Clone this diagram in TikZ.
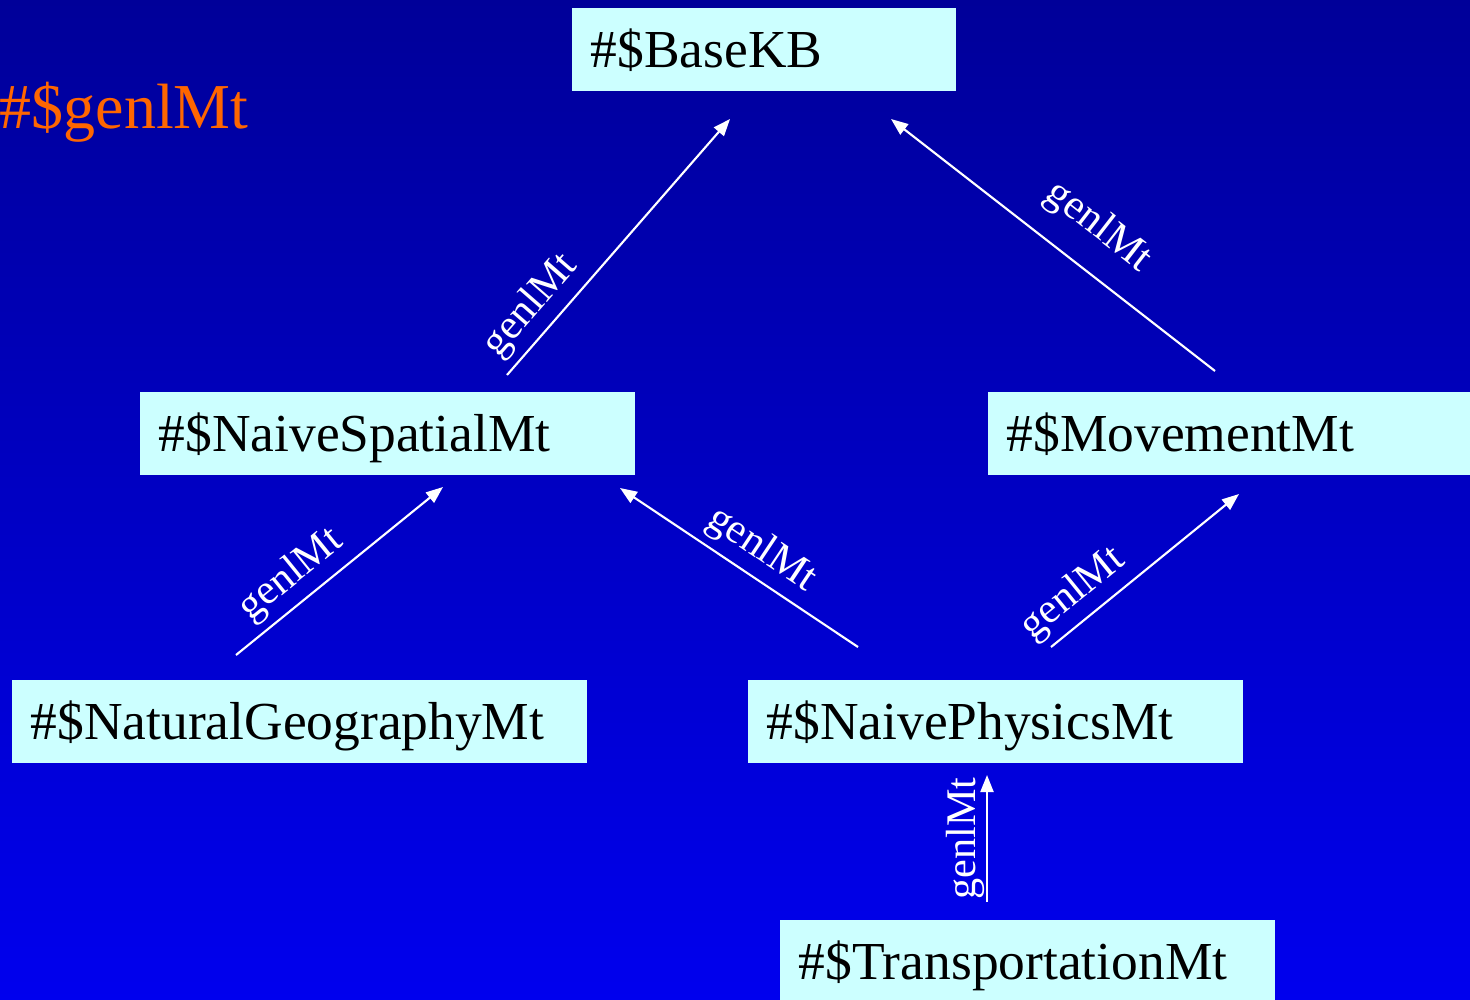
\documentclass[tikz,border=0pt]{standalone}
\usepackage{fontspec}
\setmainfont{Liberation Serif}
\usetikzlibrary{arrows.meta}
\definecolor{slideTop}{HTML}{000099}
\definecolor{slideBottom}{HTML}{0000EE}
\definecolor{mtFill}{HTML}{CCFFFF}
\definecolor{titleOrange}{HTML}{FF6600}
\newcommand*{\mtBox}[4]{%
  \node [ mt box, text width = #3cm ] (#1) at (#2) {%
    #4
  };
}

\begin{document}
\begin{tikzpicture}[ x = 0.01cm, y = -0.01cm,
    mt box/.style = {fill = mtFill, anchor = north west,
                     inner xsep = 0.19cm, inner ysep = 0pt,
                     text height = 0.60cm, text depth = 0.23cm,
                     align = left,
                     font = \fontsize{15.2}{18}\selectfont},
    genl/.style = {draw = white, line width = 0.6pt,
                   -{Triangle[length = 0.17cm, width = 0.13cm]}},
    genl label/.style = {text = white, sloped, above, inner sep = 2pt,
                         font = \fontsize{12}{14}\selectfont}]

\shade [top color = slideTop, bottom color = slideBottom]
    (0,0) rectangle (1470,999);
\clip (0,0) rectangle (1470,999);

\node (title) [anchor = base west, inner sep = 0pt, text = titleOrange,
    font = \fontsize{18.2}{21}\selectfont] at (-1,128) {\#\$genlMt};

% the microtheories
\mtBox{base}{571,7}{3.46}{\#\$BaseKB}
\mtBox{spatial}{139,391}{4.57}{\#\$NaiveSpatialMt}
\mtBox{movement}{987,391}{4.45}{\#\$MovementMt}
\mtBox{geography}{11,679}{5.37}{\#\$NaturalGeographyMt}
\mtBox{physics}{747,679}{4.57}{\#\$NaivePhysicsMt}
\mtBox{transport}{779,919}{4.57}{\#\$TransportationMt}

% free ends of the genlMt links
\coordinate (spatial-up)   at (507,375);
\coordinate (base-in-l)    at (730,119);
\coordinate (movement-up)  at (1215,371);
\coordinate (base-in-r)    at (891,119);
\coordinate (geography-up) at (236,655);
\coordinate (spatial-in-l) at (443,487);
\coordinate (physics-up-l) at (858,647);
\coordinate (spatial-in-r) at (620,488);
\coordinate (physics-up-r) at (1051,647);
\coordinate (movement-in)  at (1239,494);
\coordinate (transport-up) at (987,902);
\coordinate (physics-in)   at (987,775);

\draw [genl] (spatial-up) -- node [genl label, pos = 0.2] {genlMt} (base-in-l);
\draw [genl] (movement-up) -- node [genl label, pos = 0.44, inner sep = 6.2pt] {genlMt} (base-in-r);
\draw [genl] (geography-up) -- node [genl label, pos = 0.35] {genlMt} (spatial-in-l);
\draw [genl] (physics-up-l) -- node [genl label, pos = 0.47] {genlMt} (spatial-in-r);
\draw [genl] (physics-up-r) -- node [genl label, pos = 0.21] {genlMt} (movement-in);
\draw [genl] (transport-up) -- node [genl label, pos = 0.5, inner sep = 0.5pt] {genlMt} (physics-in);
\end{tikzpicture}
\end{document}
